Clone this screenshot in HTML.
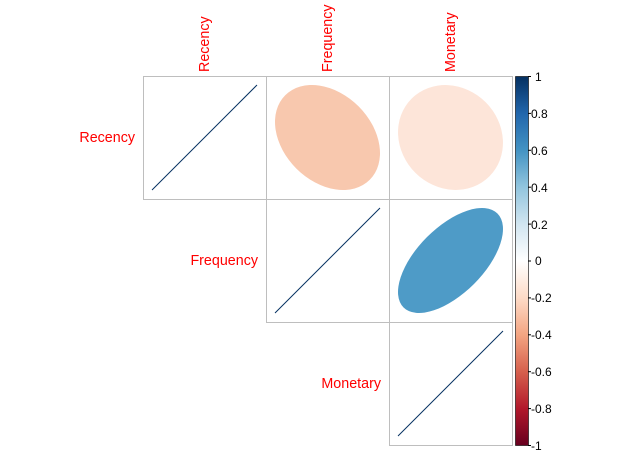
<!DOCTYPE html>
<html><head><style>html,body{margin:0;padding:0;background:#fff}</style></head>
<body>
<svg width="620" height="455" xmlns="http://www.w3.org/2000/svg" font-family="Liberation Sans, sans-serif">
<defs>
<linearGradient id="g" x1="0" y1="1" x2="0" y2="0">
<stop offset="0" stop-color="#67001F"/>
<stop offset="0.1" stop-color="#B2182B"/>
<stop offset="0.2" stop-color="#D6604D"/>
<stop offset="0.3" stop-color="#F4A582"/>
<stop offset="0.4" stop-color="#FDDBC7"/>
<stop offset="0.5" stop-color="#FFFFFF"/>
<stop offset="0.6" stop-color="#D1E5F0"/>
<stop offset="0.7" stop-color="#92C5DE"/>
<stop offset="0.8" stop-color="#4393C3"/>
<stop offset="0.9" stop-color="#2166AC"/>
<stop offset="1" stop-color="#053061"/>
</linearGradient>
</defs>
<ellipse cx="327.5" cy="137.5" rx="59.8" ry="44" transform="rotate(45 327.5 137.5)" fill="#F8C8AE"/>
<ellipse cx="450.5" cy="137.5" rx="55" ry="49.8" transform="rotate(45 450.5 137.5)" fill="#FDE5D9"/>
<ellipse cx="450.5" cy="260.5" rx="66.4" ry="33.2" transform="rotate(-45 450.5 260.5)" fill="#4E9BC7"/>
<g stroke="#053061" stroke-width="1">
<line x1="152" y1="190" x2="257" y2="85"/>
<line x1="275" y1="313" x2="380" y2="208"/>
<line x1="398" y1="436" x2="503" y2="331"/>
</g>
<g stroke="#BEBEBE" fill="none" stroke-width="1">
<rect x="143.5" y="76.5" width="123" height="123"/>
<rect x="266.5" y="76.5" width="123" height="123"/>
<rect x="389.5" y="76.5" width="123" height="123"/>
<rect x="266.5" y="199.5" width="123" height="123"/>
<rect x="389.5" y="199.5" width="123" height="123"/>
<rect x="389.5" y="322.5" width="123" height="123"/>
</g>
<g fill="#FF0000" font-size="14.3">
<text x="135" y="142" text-anchor="end">Recency</text>
<text x="258" y="265" text-anchor="end">Frequency</text>
<text x="381" y="388" text-anchor="end">Monetary</text>
<text transform="translate(209,72) rotate(-90)">Recency</text>
<text transform="translate(332,72) rotate(-90)">Frequency</text>
<text transform="translate(455,72) rotate(-90)">Monetary</text>
</g>
<rect x="515.5" y="76.5" width="13" height="369" fill="url(#g)" stroke="#000" stroke-width="0.6"/>
<g stroke="#000" stroke-width="1">
<line x1="528" y1="76.5" x2="531" y2="76.5"/><line x1="528" y1="113.4" x2="531" y2="113.4"/>
<line x1="528" y1="150.3" x2="531" y2="150.3"/><line x1="528" y1="187.2" x2="531" y2="187.2"/>
<line x1="528" y1="224.1" x2="531" y2="224.1"/><line x1="528" y1="261" x2="531" y2="261"/>
<line x1="528" y1="297.9" x2="531" y2="297.9"/><line x1="528" y1="334.8" x2="531" y2="334.8"/>
<line x1="528" y1="371.7" x2="531" y2="371.7"/><line x1="528" y1="408.6" x2="531" y2="408.6"/>
<line x1="528" y1="445.5" x2="531" y2="445.5"/>
</g>
<g fill="#000" font-size="12">
<text x="535" y="81">1</text>
<text x="531" y="118">0.8</text>
<text x="531" y="155">0.6</text>
<text x="531" y="192">0.4</text>
<text x="531" y="229">0.2</text>
<text x="535" y="265">0</text>
<text x="531" y="302">-0.2</text>
<text x="531" y="339">-0.4</text>
<text x="531" y="376">-0.6</text>
<text x="531" y="413">-0.8</text>
<text x="531" y="450">-1</text>
</g>
</svg>
</body></html>
